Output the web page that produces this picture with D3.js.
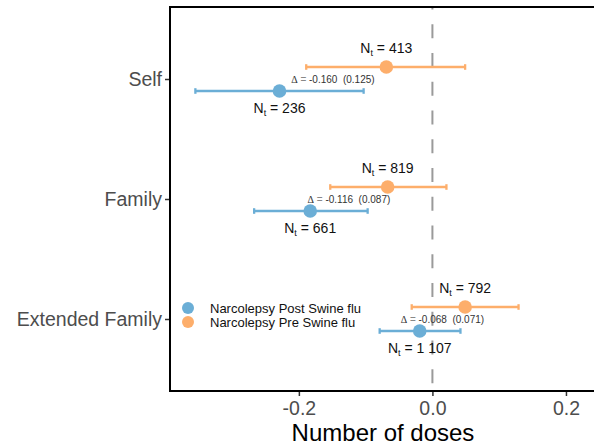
<!DOCTYPE html>
<html>
<head>
<meta charset="utf-8">
<script src="https://cdn.jsdelivr.net/npm/d3@7"></script>
<style>
  html, body { margin: 0; padding: 0; background: #fff; }
  svg { display: block; font-family: "Liberation Sans", Arial, Helvetica, sans-serif; }
</style>
</head>
<body>
<svg id="chart" width="594" height="446"></svg>
<script>
// Mean number of doses per relation group, with 95% intervals
const categories = ["Self", "Family", "Extended Family"];
const seriesNames = ["Narcolepsy Post Swine flu", "Narcolepsy Pre Swine flu"];

const postMean = [-0.229, -0.183, -0.019];
const postLow  = [-0.355, -0.267, -0.079];
const postHigh = [-0.103, -0.097,  0.042];
const postN    = ["236", "661", "1 107"];

const preMean  = [-0.069, -0.067,  0.049];
const preLow   = [-0.189, -0.153, -0.031];
const preHigh  = [ 0.049,  0.021,  0.129];
const preN     = ["413", "819", "792"];

const deltaValue = [-0.160, -0.116, -0.068];
const deltaSE    = [0.125, 0.087, 0.071];

const xTicks = [-0.2, 0.0, 0.2];

const colors = { post: "#6baed6", pre: "#fdae6b" };

const svg = d3.select("#chart");
const panel = { left: 170, top: 7, right: 596, bottom: 391 };

const x = d3.scaleLinear().domain([-0.393, 0.245]).range([panel.left, panel.right]);
const y = d3.scalePoint().domain(categories).range([panel.top, panel.bottom]).padding(0.6);
const dodge = y.step() * 0.1;

// reference line at zero
svg.append("line")
  .attr("x1", x(0)).attr("x2", x(0))
  .attr("y1", panel.top).attr("y2", panel.bottom)
  .attr("stroke", "#9a9a9a").attr("stroke-width", 2)
  .attr("stroke-dasharray", "14 14.75").attr("stroke-dashoffset", 11.5);

const rows = categories.map((c, i) => ({
  cat: c,
  post: { mean: postMean[i], lo: postLow[i], hi: postHigh[i], n: postN[i] },
  pre:  { mean: preMean[i],  lo: preLow[i],  hi: preHigh[i],  n: preN[i] },
  delta: deltaValue[i], se: deltaSE[i]
}));

function drawSeries(key, offset) {
  const g = svg.append("g");
  rows.forEach(r => {
    const d = r[key];
    const cy = y(r.cat) + offset;
    g.append("line")
      .attr("x1", x(d.lo)).attr("x2", x(d.hi))
      .attr("y1", cy).attr("y2", cy)
      .attr("stroke", colors[key]).attr("stroke-width", 2.3);
    [d.lo, d.hi].forEach(v => {
      g.append("line")
        .attr("x1", x(v)).attr("x2", x(v))
        .attr("y1", cy - 2.8).attr("y2", cy + 2.8)
        .attr("stroke", colors[key]).attr("stroke-width", 2.3);
    });
    g.append("circle")
      .attr("cx", x(d.mean)).attr("cy", cy).attr("r", 6.8)
      .attr("fill", colors[key]);
  });
}
drawSeries("post", dodge);
drawSeries("pre", -dodge);

// sample size labels: above pre, below post
function nLabel(xv, yBase, n) {
  const t = svg.append("text")
    .attr("x", x(xv)).attr("y", yBase)
    .attr("text-anchor", "middle")
    .attr("font-size", 14).attr("fill", "#111");
  t.append("tspan").text("N");
  t.append("tspan").attr("font-size", 9).attr("dy", 3).text("t");
  t.append("tspan").attr("dy", -3).text(" = " + n);
}
rows.forEach(r => {
  nLabel(r.pre.mean, y(r.cat) - dodge - 14, r.pre.n);
  nLabel(r.post.mean, y(r.cat) + dodge + 22, r.post.n);
});

// difference labels between the two means
rows.forEach(r => {
  const t = svg.append("text")
    .attr("x", x((r.pre.mean + r.post.mean) / 2)).attr("y", y(r.cat) + 4)
    .attr("text-anchor", "middle")
    .attr("font-size", 10).attr("fill", "#333");
  t.append("tspan").attr("font-family", "Liberation Serif, serif").text("\u0394");
  t.append("tspan").attr("fill", "#888").text(" = ");
  t.append("tspan").text(r.delta.toFixed(3) + "\u00a0\u00a0(" + r.se.toFixed(3) + ")");
});

// panel frame
svg.append("rect")
  .attr("x", panel.left).attr("y", panel.top)
  .attr("width", panel.right - panel.left).attr("height", panel.bottom - panel.top)
  .attr("fill", "none").attr("stroke", "#000").attr("stroke-width", 2);

// axes
const xAxis = d3.axisBottom(x).tickValues(xTicks).tickFormat(d => d.toFixed(1)).tickSize(4).tickPadding(5);
const gx = svg.append("g").attr("transform", `translate(0,${panel.bottom + 1})`).call(xAxis);
gx.select(".domain").remove();
gx.selectAll(".tick line").attr("stroke", "#333").attr("stroke-width", 1.5);
gx.selectAll(".tick text").attr("font-size", 19.5).attr("fill", "#4d4d4d")
  .attr("font-family", "Liberation Sans, Arial, sans-serif");

const yAxis = d3.axisLeft(y).tickSize(4).tickPadding(3);
const gy = svg.append("g").attr("transform", `translate(${panel.left - 1},0)`).call(yAxis);
gy.select(".domain").remove();
gy.selectAll(".tick line").attr("stroke", "#333").attr("stroke-width", 1.5);
gy.selectAll(".tick text").attr("font-size", 19.5).attr("fill", "#4d4d4d")
  .attr("font-family", "Liberation Sans, Arial, sans-serif");

svg.append("text")
  .attr("x", (panel.left + panel.right) / 2).attr("y", 441)
  .attr("text-anchor", "middle").attr("font-size", 24).attr("fill", "#000")
  .text("Number of doses");

// legend
const legend = svg.append("g");
[["post", 0], ["pre", 1]].forEach(([key, i]) => {
  const ly = 308 + i * 14;
  legend.append("circle").attr("cx", 188).attr("cy", ly).attr("r", 6).attr("fill", colors[key]);
  legend.append("text").attr("x", 210).attr("y", ly + 4.5)
    .attr("font-size", 13).attr("fill", "#111").text(seriesNames[i]);
});
</script>
</body>
</html>
